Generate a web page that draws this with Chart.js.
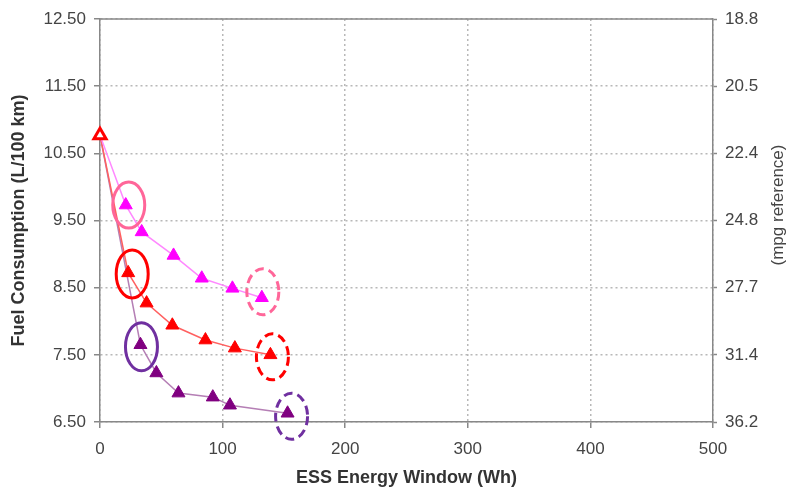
<!DOCTYPE html>
<html><head><meta charset="utf-8">
<script src="https://cdn.jsdelivr.net/npm/chart.js@4/dist/chart.umd.min.js"></script>
<style>html,body{margin:0;padding:0;background:#fff}#wrap{width:790px;height:489px;position:relative}</style>
</head><body><div id="wrap"><canvas id="c" width="790" height="489"></canvas></div>
<script>
// ---- data ----
const startX = 0;
const startY = 10.77;
const magentaX = [21, 34, 60, 83, 108, 132];
const magentaY = [9.73, 9.33, 8.98, 8.64, 8.49, 8.35];
const redX = [23, 38, 59, 86, 110, 139];
const redY = [8.72, 8.27, 7.94, 7.72, 7.60, 7.50];
const purpleX = [33, 46, 64, 92, 106, 153];
const purpleY = [7.65, 7.23, 6.93, 6.87, 6.75, 6.63];
const fuelTicks = [6.5, 7.5, 8.5, 9.5, 10.5, 11.5, 12.5];
const mpgTickLabels = ['36.2', '31.4', '27.7', '24.8', '22.4', '20.5', '18.8'];
const energyTicks = [0, 100, 200, 300, 400, 500];
const xTitle = 'ESS Energy Window (Wh)';
const yTitle = 'Fuel Consumption (L/100 km)';
const y2Title = '(mpg reference)';

// ---- highlight ellipses (dataset index, point index) ----
const ellipses = [
  {ds: 1, pt: 1, dx: 3, dy: 0, rx: 16, ry: 23, color: '#FF6699', dash: []},
  {ds: 2, pt: 1, dx: 4, dy: 1, rx: 16, ry: 24, color: '#FF0000', dash: []},
  {ds: 3, pt: 1, dx: 1, dy: 2, rx: 16, ry: 24, color: '#7030A0', dash: []},
  {ds: 1, pt: 6, dx: 1, dy: -6, rx: 16, ry: 23, color: '#FF6699', dash: [9, 5]},
  {ds: 2, pt: 6, dx: 2, dy: 2, rx: 16, ry: 23, color: '#FF0000', dash: [9, 5]},
  {ds: 3, pt: 6, dx: 4, dy: 3, rx: 16, ry: 23, color: '#7030A0', dash: [9, 5]}
];

function series(xs, ys) {
  const pts = [{x: startX, y: startY}];
  xs.forEach((x, i) => pts.push({x: x, y: ys[i]}));
  return pts;
}

const FONT = "'Liberation Sans', Arial, sans-serif";
const TXT = '#444';

const ellipsePlugin = {
  id: 'ellipses',
  afterDatasetsDraw(chart) {
    const ctx = chart.ctx;
    ellipses.forEach(e => {
      const el = chart.getDatasetMeta(e.ds).data[e.pt];
      if (!el) return;
      ctx.save();
      ctx.beginPath();
      ctx.ellipse(el.x + e.dx, el.y + e.dy, e.rx, e.ry, 0, 0, Math.PI * 2);
      ctx.strokeStyle = e.color;
      ctx.lineWidth = 3;
      ctx.setLineDash(e.dash);
      ctx.stroke();
      ctx.restore();
    });
  }
};

const framePlugin = {
  id: 'frame',
  beforeDatasetsDraw(chart) {
    const {ctx, chartArea: a} = chart;
    ctx.save();
    ctx.strokeStyle = '#888';
    ctx.lineWidth = 1.5;
    ctx.beginPath();
    ctx.moveTo(a.left, a.top);
    ctx.lineTo(a.right, a.top);
    ctx.stroke();
    ctx.restore();
  },
  afterDraw(chart) {
    const ctx = chart.ctx;
    ctx.save();
    ctx.translate(778, 205);
    ctx.rotate(-Math.PI / 2);
    ctx.font = '17px ' + FONT;
    ctx.fillStyle = TXT;
    ctx.textAlign = 'center';
    ctx.textBaseline = 'middle';
    ctx.fillText(y2Title, 0, 0);
    ctx.restore();
  }
};

const lineBase = {
  showLine: true,
  borderWidth: 1.5,
  pointStyle: 'triangle',
  pointRadius: c => c.dataIndex === 0 ? 0 : 7.5,
  pointHoverRadius: c => c.dataIndex === 0 ? 0 : 7.5,
  pointBorderWidth: 1,
  tension: 0
};

const gridOpts = {color: '#b8b8b8', lineWidth: 1.5, tickLength: 6,
                  tickColor: '#888', tickBorderDash: [], tickWidth: 1.5};
const borderOpts = {display: true, color: '#888', width: 1.5, dash: [2, 3]};

new Chart(document.getElementById('c'), {
  type: 'scatter',
  data: {
    datasets: [
      {
        label: 'start', data: [{x: startX, y: startY}], showLine: false, clip: false,
        pointStyle: 'triangle', pointRadius: 7, pointHoverRadius: 7,
        pointBackgroundColor: '#fff', pointBorderColor: '#FF0000', pointBorderWidth: 3
      },
      Object.assign({}, lineBase, {
        label: 'magenta', data: series(magentaX, magentaY),
        borderColor: '#FF88FF', pointBackgroundColor: '#FF00FF', pointBorderColor: '#FF00FF'
      }),
      Object.assign({}, lineBase, {
        label: 'red', data: series(redX, redY),
        borderColor: '#FF6060', pointBackgroundColor: '#FF0000', pointBorderColor: '#FF0000'
      }),
      Object.assign({}, lineBase, {
        label: 'purple', data: series(purpleX, purpleY),
        borderColor: '#B57FB5', pointBackgroundColor: '#800080', pointBorderColor: '#800080'
      })
    ]
  },
  options: {
    responsive: false,
    animation: false,
    layout: {padding: {top: 19, left: 0, right: 0, bottom: 0}},
    plugins: {legend: {display: false}, tooltip: {enabled: false}},
    scales: {
      x: {
        type: 'linear', position: 'bottom', min: 0, max: 500,
        afterBuildTicks: s => { s.ticks = energyTicks.map(v => ({value: v})); },
        afterFit: s => { s.height = 67; },
        ticks: {color: TXT, font: {family: FONT, size: 17}, padding: 11},
        grid: gridOpts,
        border: borderOpts,
        title: {display: true, text: xTitle, color: '#333',
                font: {family: FONT, size: 18, weight: 'bold'}, padding: {top: 0, bottom: 0}}
      },
      y: {
        type: 'linear', position: 'left', min: 6.5, max: 12.5,
        afterBuildTicks: s => { s.ticks = fuelTicks.map(v => ({value: v})); },
        afterFit: s => { s.width = 100; },
        ticks: {color: TXT, font: {family: FONT, size: 17}, padding: 8,
                callback: v => Number(v).toFixed(2)},
        grid: gridOpts,
        border: borderOpts,
        title: {display: true, text: yTitle, color: '#333',
                font: {family: FONT, size: 18, weight: 'bold'}, padding: {top: 8, bottom: 0}}
      },
      y2: {
        type: 'linear', position: 'right', min: 6.5, max: 12.5,
        afterBuildTicks: s => { s.ticks = fuelTicks.map(v => ({value: v})); },
        afterFit: s => { s.width = 77; },
        ticks: {color: TXT, font: {family: FONT, size: 17}, padding: 8,
                callback: (v, i) => mpgTickLabels[i]},
        grid: {drawOnChartArea: false, tickLength: 4, tickColor: '#888', tickWidth: 1.5},
        border: {display: true, color: '#888', width: 1.5}
      }
    }
  },
  plugins: [ellipsePlugin, framePlugin]
});
</script>
</body></html>
